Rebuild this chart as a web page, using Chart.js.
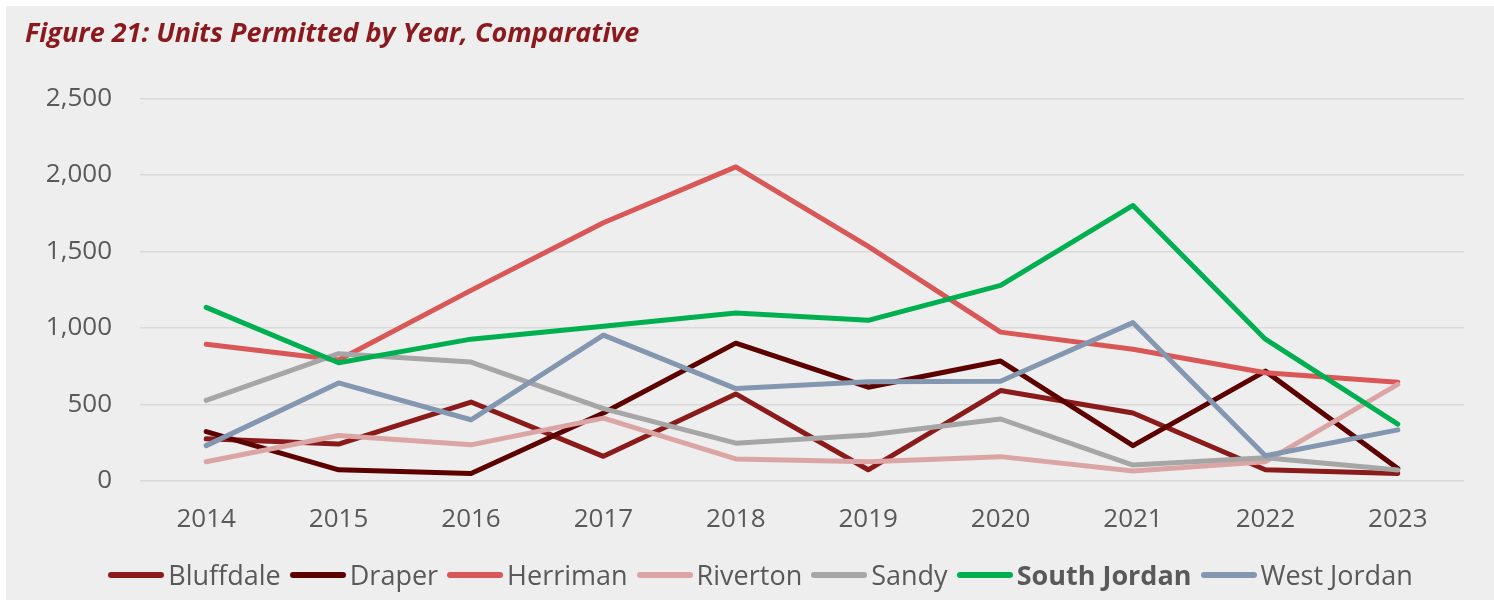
<!DOCTYPE html>
<html>
<head>
<meta charset="UTF-8">
<title>Units Permitted by Year, Comparative</title>
<script src="https://cdn.jsdelivr.net/npm/chart.js"></script>
<style>
	body {
		margin: 0;
		padding: 0;
		background: #ffffff;
		font-family: 'Open Sans', sans-serif;
	}

	.box {
		position: absolute;
		left: 6px;
		top: 6px;
		width: 1488px;
		height: 594px;
		background: #eeeeee;
	}

	#chartWrap {
		position: absolute;
		left: 0;
		top: 0;
		width: 1488px;
		height: 558px;
	}

	#legend {
		position: absolute;
		left: 15px;
		top: 551px;
		width: 1488px;
		display: flex;
		justify-content: center;
		align-items: center;
		color: #595959;
		font-size: 27px;
		line-height: 36px;
	}

	.item {
		display: flex;
		align-items: center;
		margin-right: 9px;
	}

	.swatch {
		width: 56px;
		height: 6px;
		border-radius: 3px;
		margin-right: 4px;
	}
</style>
</head>
<body>
	<div class="box">
		<div id="chartWrap"><canvas id="unitsChart"></canvas></div>
		<div id="legend"></div>
	</div>

	<script>
		var years = ['2014', '2015', '2016', '2017', '2018', '2019', '2020', '2021', '2022', '2023'];
		var bluffdale = [275, 240, 515, 160, 568, 72, 590, 443, 72, 48];
		var draper = [322, 72, 48, 443, 900, 612, 783, 230, 717, 80];
		var herriman = [893, 790, 1245, 1687, 2052, 1532, 972, 860, 706, 645];
		var riverton = [125, 296, 235, 410, 143, 125, 158, 64, 125, 630];
		var sandy = [526, 831, 776, 472, 246, 300, 404, 103, 151, 70];
		var southJordan = [1134, 772, 926, 1011, 1097, 1049, 1278, 1800, 926, 370];
		var westJordan = [230, 640, 399, 952, 603, 647, 651, 1034, 164, 333];
		var yTicks = [0, 500, 1000, 1500, 2000, 2500];

		var series = [
			{ name: 'Bluffdale', data: bluffdale, color: '#8b1a1a', bold: false },
			{ name: 'Draper', data: draper, color: '#5c0000', bold: false },
			{ name: 'Herriman', data: herriman, color: '#d95757', bold: false },
			{ name: 'Riverton', data: riverton, color: '#dba5a5', bold: false },
			{ name: 'Sandy', data: sandy, color: '#a6a6a6', bold: false },
			{ name: 'South Jordan', data: southJordan, color: '#00b050', bold: true },
			{ name: 'West Jordan', data: westJordan, color: '#8497b0', bold: false }
		];

		var datasets = series.map(function (s, i) {
			return {
				label: s.name,
				data: s.data,
				borderColor: s.color,
				backgroundColor: s.color,
				borderWidth: 5,
				borderCapStyle: 'round',
				borderJoinStyle: 'round',
				pointRadius: 0,
				tension: 0,
				fill: false,
				order: series.length - i // later series on top, like excel
			};
		});

		var ctx = document.getElementById('unitsChart').getContext('2d');
		var unitsChart = new Chart(ctx, {
			type: 'line',
			data: { labels: years, datasets: datasets },
			options: {
				responsive: true,
				maintainAspectRatio: false,
				animation: false,
				layout: { padding: { left: 19, right: 30, top: 0, bottom: 14 } },
				plugins: {
					legend: { display: false },
					tooltip: { enabled: false },
					title: {
						display: true,
						text: 'Figure 21: Units Permitted by Year, Comparative',
						align: 'start',
						color: '#8b1a1e',
						font: { family: 'Open Sans', size: 27, style: 'italic', weight: 'bold' },
						padding: { top: 12, bottom: 48 }
					}
				},
				scales: {
					x: {
						offset: true,
						grid: { display: false },
						border: { display: false },
						ticks: {
							color: '#595959',
							font: { family: 'Open Sans', size: 26 },
							padding: 15,
							maxRotation: 0
						}
					},
					y: {
						min: 0,
						max: 2500,
						afterBuildTicks: function (axis) {
							axis.ticks = yTicks.map(function (v) { return { value: v }; });
						},
						afterFit: function (axis) { axis.width = 115; },
						grid: { color: '#d9d9d9', lineWidth: 1.5, drawTicks: false },
						border: { display: false },
						ticks: {
							color: '#595959',
							font: { family: 'Open Sans', size: 26 },
							padding: 28,
							callback: function (v) { return v.toLocaleString('en-US'); }
						}
					}
				}
			}
		});

		// html legend so South Jordan can be bold
		var legend = document.getElementById('legend');
		series.forEach(function (s) {
			var item = document.createElement('div');
			item.className = 'item';
			var sw = document.createElement('span');
			sw.className = 'swatch';
			sw.style.background = s.color;
			var txt = document.createElement('span');
			txt.textContent = s.name;
			if (s.bold) txt.style.fontWeight = 'bold';
			item.appendChild(sw);
			item.appendChild(txt);
			legend.appendChild(item);
		});
	</script>
</body>
</html>
